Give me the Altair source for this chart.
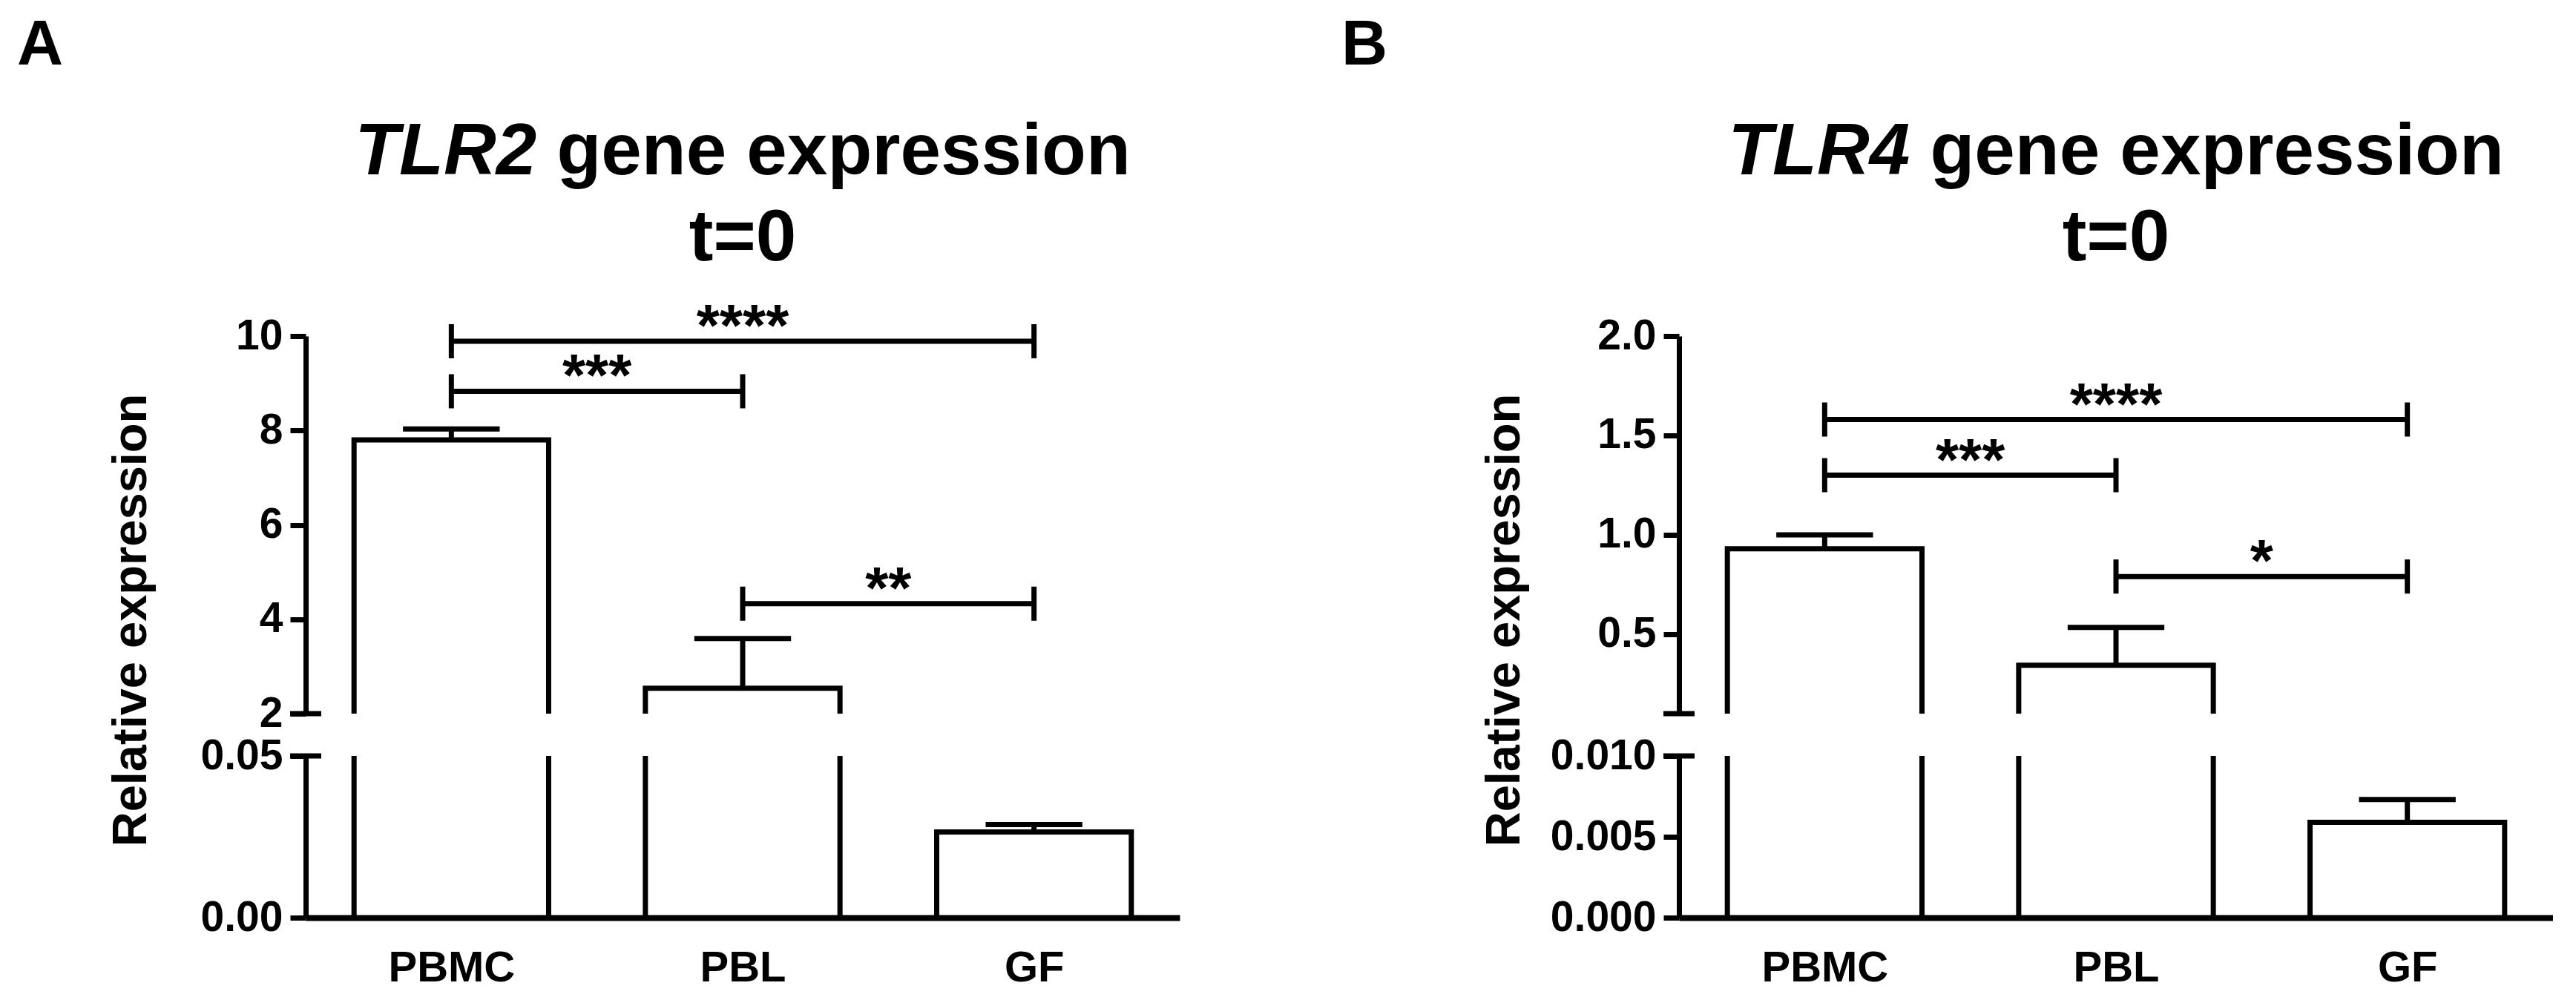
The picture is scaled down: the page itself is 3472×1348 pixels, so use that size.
import json

import altair as alt
import pandas as pd

FONT = "Liberation Sans"

# Groups along the x axis
categories = ["PBMC", "PBL", "GF"]
positions = [0, 1, 2]

# TLR2 relative expression (mean and SEM)
tlr2_mean = [7.8, 2.54, 0.0265]
tlr2_sem = [0.23, 1.05, 0.0023]

# TLR4 relative expression (mean and SEM)
tlr4_mean = [0.93, 0.344, 0.0059]
tlr4_sem = [0.07, 0.19, 0.0014]

# Significance brackets: group indices, bracket height, label
tlr2_from = [0, 0, 1]
tlr2_to = [2, 1, 2]
tlr2_height = [9.89, 8.83, 4.33]
tlr2_stars = ["****", "***", "**"]

tlr4_from = [0, 0, 1]
tlr4_to = [2, 1, 2]
tlr4_height = [1.58, 1.30, 0.79]
tlr4_stars = ["****", "***", "*"]

# Broken y axes: upper and lower segment of each panel
tlr2_upper = [2, 10]
tlr2_upper_ticks = [2, 4, 6, 8, 10]
tlr2_lower = [0, 0.05]
tlr2_lower_ticks = [0, 0.05]

tlr4_upper = [0.1, 2.0]
tlr4_upper_ticks = [0.5, 1.0, 1.5, 2.0]
tlr4_lower = [0, 0.010]
tlr4_lower_ticks = [0, 0.005, 0.010]

# Layout (pixels)
W = 1178
H_UP = 509
H_LO = 218
GAP = 57
PANEL_GAP = 673
BAR_HALF = 0.334
CAP_HALF = 0.166
LW = 7

LABEL_EXPR = "[" + ",".join(json.dumps(c) for c in categories) + "][datum.value]"
X_SCALE = alt.Scale(domain=[-0.5, 2.5], nice=False, zero=False)


def bar_frame(means, sems):
    rows = []
    for cat, pos, m, s in zip(categories, positions, means, sems):
        rows.append(dict(cat=cat, pos=pos, lo=pos - BAR_HALF, hi=pos + BAR_HALF,
                         mean=m, top=m + s, cap_lo=pos - CAP_HALF, cap_hi=pos + CAP_HALF))
    return pd.DataFrame(rows)


def bracket_frame(src, dst, heights, stars):
    rows = []
    for a, b, h, st in zip(src, dst, heights, stars):
        x1, x2 = positions[a], positions[b]
        rows.append(dict(x1=x1, x2=x2, mid=(x1 + x2) / 2, h=h, stars=st))
    return pd.DataFrame(rows)


def y_axis(ticks, fmt):
    return alt.Axis(values=ticks, format=fmt, grid=False, title=None,
                    domainWidth=LW, domainColor="black",
                    tickWidth=LW, tickColor="black", tickSize=21,
                    labelPadding=10, labelFont=FONT, labelFontSize=57,
                    labelFontWeight="bold", labelColor="black")


def x_axis(lower):
    if not lower:
        return alt.Axis(values=positions, domain=False, ticks=False, labels=False,
                        grid=False, title=None)
    return alt.Axis(values=positions, labelExpr=LABEL_EXPR, ticks=False,
                    grid=False, title=None, domainWidth=8, domainColor="black",
                    labelFont=FONT, labelFontSize=58, labelFontWeight="bold",
                    labelColor="black", labelPadding=39)


def text_layer(label, x, y, size, align="left", style="normal", angle=0):
    return alt.Chart(pd.DataFrame({"t": [label]})).mark_text(
        font=FONT, fontSize=size, fontWeight="bold", fontStyle=style,
        align=align, baseline="alphabetic", angle=angle, color="black"
    ).encode(x=alt.value(x), y=alt.value(y), text="t:N")


def segment(bars_df, domain, ticks, fmt, height, lower, break_at, extra_fn=None):
    ys = alt.Scale(domain=domain, nice=False, zero=False)
    yax = y_axis(ticks, fmt)
    xax = x_axis(lower)

    def X(field):
        return alt.X(field, scale=X_SCALE, axis=xax)

    def Y(field):
        return alt.Y(field, scale=ys, axis=yax)

    base = alt.Chart(bars_df)
    bars = base.mark_rect(fill="white", stroke="black", strokeWidth=LW, clip=True).encode(
        x=X("lo:Q"), x2="hi:Q", y=Y("mean:Q"), y2=alt.datum(0),
    )
    stems = base.mark_rule(color="black", strokeWidth=LW, clip=True).encode(
        x=X("pos:Q"), y=Y("mean:Q"), y2="top:Q",
    )
    caps = base.mark_rule(color="black", strokeWidth=LW, clip=True).encode(
        x=X("cap_lo:Q"), x2="cap_hi:Q", y=Y("top:Q"),
    )
    # tick across the axis marking the break
    brk = alt.Chart(pd.DataFrame({"v": [break_at]})).mark_rule(
        color="black", strokeWidth=LW
    ).encode(x=alt.value(-21), x2=alt.value(21), y=Y("v:Q"))
    layers = [bars, stems, caps, brk]
    if extra_fn is not None:
        layers += extra_fn(X, Y)
    return alt.layer(*layers).properties(width=W, height=height)


def annotations(br_df, gene, letter, letter_x, with_anchor=False):
    def build(X, Y):
        base = alt.Chart(br_df)
        lines = base.mark_rule(color="black", strokeWidth=LW).encode(
            x=X("x1:Q"), x2="x2:Q", y=Y("h:Q"),
        )
        left_end = base.mark_tick(color="black", opacity=1, orient="vertical", size=46,
                                  thickness=LW).encode(x=X("x1:Q"), y=Y("h:Q"))
        right_end = base.mark_tick(color="black", opacity=1, orient="vertical", size=46,
                                   thickness=LW).encode(x=X("x2:Q"), y=Y("h:Q"))
        stars = base.mark_text(font=FONT, fontSize=80, fontWeight="bold", color="black",
                               baseline="alphabetic", dy=6).encode(
            x=X("mid:Q"), y=Y("h:Q"), text="stars:N",
        )
        # title: italic gene symbol followed by plain text, centred over the plot
        fs = 98
        w_gene = 2.5 * fs
        w_space = 0.278 * fs
        w_rest = 7.892 * fs
        left = W / 2 - (w_gene + w_space + w_rest) / 2
        t1 = text_layer(gene, left + w_gene, -218, fs, align="right", style="italic")
        t2 = text_layer("gene expression", left + w_gene + w_space, -218, fs, align="left")
        t3 = text_layer("t=0", W / 2, -102, fs, align="center")
        panel = text_layer(letter, letter_x, -366, 86, align="left")
        ytitle = text_layer("Relative expression", -215, 383, 65, align="center", angle=270)
        out = [lines, left_end, right_end, stars, t1, t2, t3, panel, ytitle]
        if with_anchor:
            # invisible anchor fixing the page origin relative to the first plot
            out.append(alt.Chart(pd.DataFrame({"a": [0]})).mark_rule(
                opacity=0, strokeWidth=1
            ).encode(x=alt.value(-411.5), x2=alt.value(-410.5),
                     y=alt.value(-452.5), y2=alt.value(-451.5)))
        return out
    return build


tlr2_bars = bar_frame(tlr2_mean, tlr2_sem)
tlr4_bars = bar_frame(tlr4_mean, tlr4_sem)
tlr2_br = bracket_frame(tlr2_from, tlr2_to, tlr2_height, tlr2_stars)
tlr4_br = bracket_frame(tlr4_from, tlr4_to, tlr4_height, tlr4_stars)

a_up = segment(tlr2_bars, tlr2_upper, tlr2_upper_ticks, "d", H_UP, False, tlr2_upper[0],
               annotations(tlr2_br, "TLR2", "A", -389, with_anchor=True))
a_lo = segment(tlr2_bars, tlr2_lower, tlr2_lower_ticks, ".2f", H_LO, True, tlr2_lower[1])
b_up = segment(tlr4_bars, tlr4_upper, tlr4_upper_ticks, ".1f", H_UP, False, tlr4_upper[0],
               annotations(tlr4_br, "TLR4", "B", -455))
b_lo = segment(tlr4_bars, tlr4_lower, tlr4_lower_ticks, ".3f", H_LO, True, tlr4_lower[1])

chart = alt.concat(
    a_up, b_up, a_lo, b_lo, columns=2, bounds="flush",
    spacing={"row": GAP, "column": PANEL_GAP},
).properties(padding=0, background="white").configure_view(stroke=None)

chart.save("out.html", embed_options={"renderer": "svg", "actions": False})
